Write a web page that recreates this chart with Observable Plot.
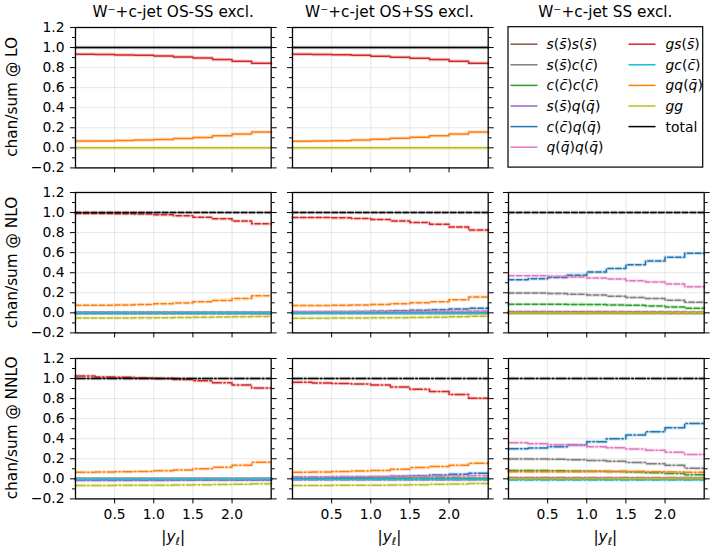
<!DOCTYPE html>
<html><head><meta charset="utf-8">
<script src="https://cdn.jsdelivr.net/npm/d3@7"></script>
<script src="https://cdn.jsdelivr.net/npm/@observablehq/plot@0.6"></script>
<style>
body{margin:0;background:#fff;}
#chart{position:relative;width:714px;height:554px;font-family:"DejaVu Sans",sans-serif;color:#000;background:#fff;overflow:hidden;}
#chart .panel{position:absolute;}
#overlay{position:absolute;left:0;top:0;pointer-events:none;}
</style></head>
<body><div id="chart"></div>
<script>
// ---------- data ----------
const binEdges = [0, 0.25, 0.5, 0.75, 1.0, 1.25, 1.5, 1.75, 2.0, 2.25, 2.5];
const channelLabels = ["s(s\u0304)s(s\u0304)", "s(s\u0304)c(c\u0304)", "c(c\u0304)c(c\u0304)", "s(s\u0304)q(q\u0304)", "c(c\u0304)q(q\u0304)", "q(q\u0304)q(q\u0304)",
                       "gs(s\u0304)", "gc(c\u0304)", "gq(q\u0304)", "gg", "total"];
const channelColors = ["#8c564b", "#7f7f7f", "#2ca02c", "#9467bd", "#1f77b4", "#e377c2",
                       "#d62728", "#17becf", "#ff7f0e", "#bcbd22", "#000000"];
const columnTitles = ["W\u207B+c-jet OS-SS excl.", "W\u207B+c-jet OS+SS excl.", "W\u207B+c-jet SS excl."];
const rowLabels = ["chan/sum @ LO", "chan/sum @ NLO", "chan/sum @ NNLO"];
const yMajorTicks = [-0.2, 0.0, 0.2, 0.4, 0.6, 0.8, 1.0, 1.2];
const yMinorTicks = [-0.1, 0.1, 0.3, 0.5, 0.7, 0.9, 1.1];
const xMajorTicks = [0.5, 1.0, 1.5, 2.0];

// channel order: ss, sc, cc, sq, cq, qq, gs, gc, gq, gg, total
const LO_OSmSS = [null, null, null, null, null, null,
  [0.933, 0.932, 0.927, 0.923, 0.917, 0.907, 0.897, 0.880, 0.863, 0.843],
  null,
  [0.067, 0.068, 0.073, 0.077, 0.083, 0.093, 0.103, 0.120, 0.137, 0.157],
  [0, 0, 0, 0, 0, 0, 0, 0, 0, 0],
  [1, 1, 1, 1, 1, 1, 1, 1, 1, 1]];
const LO_OSpSS = [null, null, null, null, null, null,
  [0.934, 0.932, 0.929, 0.923, 0.914, 0.904, 0.894, 0.880, 0.863, 0.843],
  null,
  [0.066, 0.068, 0.071, 0.077, 0.086, 0.096, 0.106, 0.120, 0.137, 0.157],
  [0, 0, 0, 0, 0, 0, 0, 0, 0, 0],
  [1, 1, 1, 1, 1, 1, 1, 1, 1, 1]];

const NLO_OSmSS = [
  [0.000, 0.000, 0.000, 0.000, 0.000, 0.000, 0.000, 0.000, 0.000, 0.000],
  [0.001, 0.001, 0.001, 0.001, 0.001, 0.001, 0.001, 0.001, 0.001, 0.001],
  [0.000, 0.000, 0.000, 0.000, 0.000, 0.000, 0.000, 0.000, 0.000, 0.000],
  [-0.004, -0.004, -0.004, -0.004, -0.004, -0.004, -0.004, -0.004, -0.004, -0.004],
  [0.002, 0.002, 0.002, 0.002, 0.002, 0.002, 0.002, 0.002, 0.002, 0.002],
  [0.000, 0.000, 0.000, 0.000, 0.000, 0.000, 0.000, 0.000, 0.000, 0.000],
  [0.990, 0.990, 0.988, 0.985, 0.978, 0.968, 0.953, 0.938, 0.915, 0.888],
  [-0.002, -0.002, -0.002, -0.002, -0.002, -0.002, -0.002, -0.002, -0.002, -0.002],
  [0.075, 0.076, 0.079, 0.083, 0.090, 0.099, 0.110, 0.124, 0.142, 0.170],
  [-0.052, -0.052, -0.051, -0.050, -0.049, -0.047, -0.045, -0.042, -0.039, -0.036],
  [1, 1, 1, 1, 1, 1, 1, 1, 1, 1]];
const NLO_OSpSS = [
  [0.001, 0.001, 0.001, 0.001, 0.001, 0.001, 0.001, 0.001, 0.001, 0.001],
  [0.005, 0.005, 0.005, 0.005, 0.005, 0.005, 0.005, 0.004, 0.004, 0.004],
  [0.003, 0.003, 0.003, 0.003, 0.003, 0.003, 0.003, 0.003, 0.003, 0.003],
  [-0.004, -0.004, -0.004, -0.004, -0.004, -0.004, -0.004, -0.004, -0.004, -0.004],
  [0.004, 0.006, 0.009, 0.012, 0.016, 0.021, 0.026, 0.032, 0.039, 0.046],
  [0.011, 0.011, 0.012, 0.012, 0.013, 0.014, 0.015, 0.016, 0.017, 0.019],
  [0.951, 0.950, 0.947, 0.940, 0.931, 0.917, 0.901, 0.884, 0.855, 0.825],
  [-0.005, -0.005, -0.005, -0.005, -0.005, -0.005, -0.005, -0.005, -0.005, -0.005],
  [0.072, 0.073, 0.075, 0.078, 0.084, 0.090, 0.100, 0.110, 0.130, 0.158],
  [-0.053, -0.053, -0.052, -0.051, -0.050, -0.048, -0.046, -0.043, -0.039, -0.034],
  [1, 1, 1, 1, 1, 1, 1, 1, 1, 1]];
const NLO_SS = [
  [0.004, 0.004, 0.004, 0.004, 0.003, 0.003, 0.003, 0.003, 0.002, 0.002],
  [0.198, 0.198, 0.192, 0.186, 0.177, 0.166, 0.154, 0.142, 0.126, 0.106],
  [0.086, 0.086, 0.085, 0.084, 0.082, 0.079, 0.075, 0.068, 0.058, 0.045],
  [0.012, 0.012, 0.011, 0.011, 0.010, 0.009, 0.008, 0.007, 0.005, 0.004],
  [0.330, 0.340, 0.353, 0.376, 0.406, 0.442, 0.480, 0.518, 0.554, 0.594],
  [0.370, 0.370, 0.364, 0.358, 0.347, 0.338, 0.320, 0.307, 0.287, 0.260],
  [0.001, 0.001, 0.001, 0.001, 0.001, 0.001, 0.001, 0.001, 0.001, 0.001],
  [0.000, 0.000, 0.000, 0.000, 0.000, 0.000, 0.000, 0.000, 0.000, 0.000],
  [0.002, 0.002, 0.002, 0.002, 0.002, 0.002, 0.002, 0.002, 0.002, 0.002],
  [0.001, 0.001, 0.001, 0.001, 0.001, 0.001, 0.001, 0.001, 0.001, 0.001],
  [1, 1, 1, 1, 1, 1, 1, 1, 1, 1]];

const NNLO_OSmSS = [
  [0.000, 0.000, 0.000, 0.000, 0.000, 0.000, 0.000, 0.000, 0.000, 0.000],
  [-0.002, -0.002, -0.002, -0.002, -0.002, -0.002, -0.002, -0.002, -0.002, -0.002],
  [0.000, 0.000, 0.000, 0.000, 0.000, 0.000, 0.000, 0.000, 0.000, 0.000],
  [-0.016, -0.016, -0.016, -0.016, -0.016, -0.015, -0.015, -0.015, -0.014, -0.014],
  [-0.004, -0.004, -0.004, -0.004, -0.004, -0.004, -0.004, -0.004, -0.004, -0.004],
  [0.000, 0.000, 0.000, 0.000, 0.000, 0.000, 0.000, 0.000, 0.000, 0.000],
  [1.026, 1.016, 1.012, 1.006, 1.000, 0.990, 0.978, 0.958, 0.935, 0.905],
  [-0.003, -0.003, -0.003, -0.003, -0.003, -0.003, -0.003, -0.003, -0.003, -0.003],
  [0.066, 0.067, 0.070, 0.073, 0.080, 0.088, 0.100, 0.115, 0.135, 0.165],
  [-0.066, -0.066, -0.065, -0.064, -0.063, -0.062, -0.060, -0.057, -0.054, -0.050],
  [1, 1, 1, 1, 1, 1, 1, 1, 1, 1]];
const NNLO_OSpSS = [
  [0.001, 0.001, 0.001, 0.001, 0.001, 0.001, 0.001, 0.001, 0.001, 0.001],
  [0.006, 0.006, 0.006, 0.006, 0.006, 0.006, 0.005, 0.005, 0.005, 0.004],
  [0.004, 0.004, 0.004, 0.004, 0.004, 0.004, 0.004, 0.004, 0.004, 0.004],
  [-0.009, -0.009, -0.009, -0.009, -0.009, -0.009, -0.009, -0.009, -0.008, -0.008],
  [0.007, 0.009, 0.012, 0.015, 0.020, 0.025, 0.031, 0.038, 0.046, 0.056],
  [0.022, 0.022, 0.023, 0.023, 0.024, 0.025, 0.026, 0.027, 0.028, 0.030],
  [0.962, 0.955, 0.951, 0.946, 0.935, 0.915, 0.893, 0.870, 0.840, 0.803],
  [-0.004, -0.004, -0.004, -0.004, -0.004, -0.004, -0.004, -0.004, -0.004, -0.004],
  [0.066, 0.067, 0.072, 0.078, 0.082, 0.095, 0.112, 0.122, 0.135, 0.155],
  [-0.066, -0.066, -0.065, -0.064, -0.063, -0.061, -0.058, -0.055, -0.051, -0.046],
  [1, 1, 1, 1, 1, 1, 1, 1, 1, 1]];
const NNLO_SS = [
  [0.004, 0.004, 0.004, 0.004, 0.004, 0.003, 0.003, 0.003, 0.003, 0.002],
  [0.199, 0.198, 0.195, 0.190, 0.183, 0.175, 0.163, 0.150, 0.135, 0.106],
  [0.083, 0.082, 0.080, 0.078, 0.075, 0.072, 0.067, 0.060, 0.052, 0.040],
  [0.010, 0.010, 0.010, 0.009, 0.009, 0.008, 0.008, 0.007, 0.007, 0.006],
  [0.300, 0.308, 0.321, 0.338, 0.371, 0.400, 0.437, 0.470, 0.510, 0.553],
  [0.361, 0.351, 0.341, 0.334, 0.321, 0.311, 0.298, 0.285, 0.265, 0.242],
  [0.002, 0.002, 0.002, 0.002, 0.002, 0.002, 0.002, 0.002, 0.002, 0.002],
  [-0.012, -0.012, -0.012, -0.012, -0.012, -0.012, -0.012, -0.012, -0.012, -0.012],
  [0.070, 0.070, 0.071, 0.071, 0.072, 0.072, 0.072, 0.070, 0.068, 0.065],
  [0.003, 0.003, 0.003, 0.003, 0.003, 0.003, 0.003, 0.003, 0.003, 0.003],
  [1, 1, 1, 1, 1, 1, 1, 1, 1, 1]];

const panelData = [
  [LO_OSmSS, LO_OSpSS, null],
  [NLO_OSmSS, NLO_OSpSS, NLO_SS],
  [NNLO_OSmSS, NNLO_OSpSS, NNLO_SS]];

// ---------- layout ----------
const colLeft = [75.3, 291.6, 507.5];
const rowTop = [26.7, 192.3, 357.7];
const panelW = 195.7, panelH = 140.4;
const mL = 50, mR = 12, mT = 6, mB = 32;
const dashes = [undefined, "5.5,2.4", "9.6,2.4,1.5,2.4"];
const fmt = d => d.toFixed(1).replace("-", "\u2212");
const blank = () => "";

const chart = document.getElementById("chart");

function drawPanel(vals, row, col) {
  const dash = dashes[row];
  const marks = [
    Plot.gridX({ticks: xMajorTicks, stroke: "#b0b0b0", strokeOpacity: 0.3, strokeWidth: 1}),
    Plot.gridY({ticks: yMajorTicks, stroke: "#b0b0b0", strokeOpacity: 0.3, strokeWidth: 1})
  ];
  vals.forEach((arr, i) => {
    if (!arr) return;
    const pts = binEdges.map((x, j) => ({x, y: arr[Math.min(j, arr.length - 1)]}));
    marks.push(Plot.line(pts, {x: "x", y: "y", curve: "step-after", stroke: channelColors[i],
      strokeWidth: 3.6, strokeOpacity: 0.22, strokeDasharray: dash}));
    marks.push(Plot.line(pts, {x: "x", y: "y", curve: "step-after", stroke: channelColors[i],
      strokeWidth: 1.5, strokeDasharray: dash}));
  });
  marks.push(
    Plot.axisY({ticks: yMajorTicks, anchor: "left", tickSize: 5, tickPadding: 6,
      tickFormat: col === 0 ? fmt : blank, label: null}),
    Plot.axisY({ticks: yMinorTicks, anchor: "left", tickSize: 3, tickFormat: blank, label: null}),
    Plot.axisY({ticks: yMajorTicks, anchor: "right", tickSize: 5, tickFormat: blank, label: null}),
    Plot.axisY({ticks: yMinorTicks, anchor: "right", tickSize: 3, tickFormat: blank, label: null}),
    Plot.axisX({ticks: xMajorTicks, anchor: "bottom", tickSize: 5, tickPadding: 5,
      tickFormat: row === 2 ? fmt : blank, label: null}),
    Plot.frame({stroke: "#000", strokeWidth: 1.3})
  );
  const svg = Plot.plot({
    width: panelW + mL + mR, height: panelH + mT + mB,
    marginLeft: mL, marginRight: mR, marginTop: mT, marginBottom: mB,
    x: {domain: [0, 2.5]},
    y: {domain: [-0.2, 1.2]},
    style: {fontFamily: "DejaVu Sans", fontSize: "13.9px", color: "#000", background: "transparent", overflow: "visible"},
    marks
  });
  svg.classList.add("panel");
  svg.style.left = (colLeft[col] - mL) + "px";
  svg.style.top = (rowTop[row] - mT) + "px";
  chart.appendChild(svg);
}

panelData.forEach((rowArr, r) => rowArr.forEach((vals, c) => { if (vals) drawPanel(vals, r, c); }));

// ---------- overlay text & legend ----------
const ov = d3.select(chart).append("svg").attr("id", "overlay")
  .attr("width", 714).attr("height", 554)
  .style("font-family", "DejaVu Sans").style("fill", "#000");

columnTitles.forEach((t, c) => {
  ov.append("text").attr("x", colLeft[c] + panelW / 2).attr("y", 17)
    .attr("text-anchor", "middle").attr("font-size", 15.3).text(t);
});
rowLabels.forEach((t, r) => {
  ov.append("text").attr("transform", `translate(17,${rowTop[r] + panelH / 2}) rotate(-90)`)
    .attr("text-anchor", "middle").attr("font-size", 15.3).text(t);
});
[0, 1, 2].forEach(c => {
  const t = ov.append("text").attr("x", colLeft[c] + panelW / 2).attr("y", 542)
    .attr("text-anchor", "middle").attr("font-size", 15.3);
  t.append("tspan").text("|");
  t.append("tspan").attr("font-style", "italic").text("y");
  t.append("tspan").attr("font-style", "italic").attr("font-size", 10.7).attr("dy", 3).text("\u2113");
  t.append("tspan").attr("dy", -3).text("|");
});

// legend (occupies the empty SS @ LO panel)
const lg = ov.append("g").attr("transform", `translate(${colLeft[2]},${rowTop[0]})`);
lg.append("rect").attr("x", 0.5).attr("y", 0).attr("width", panelW - 1).attr("height", panelH)
  .attr("fill", "#fff").attr("stroke", "#000").attr("stroke-width", 1.2);
function mathText(sel, s) {
  if (s === "total") { sel.append("tspan").text(s); return; }
  const parts = s.match(/[()]|[^()]+/g);
  parts.forEach(p => {
    const ts = sel.append("tspan").text(p);
    if (p !== "(" && p !== ")") ts.attr("font-style", "italic");
  });
}
channelLabels.forEach((lab, i) => {
  const colIdx = i < 6 ? 0 : 1;
  const rowIdx = i < 6 ? i : i - 6;
  const hx = colIdx === 0 ? 3 : 121;
  const tx = colIdx === 0 ? 39 : 158;
  const y = 17.5 + rowIdx * 20.6;
  lg.append("line").attr("x1", hx).attr("x2", hx + 27).attr("y1", y).attr("y2", y)
    .attr("stroke", channelColors[i]).attr("stroke-width", 1.5);
  const t = lg.append("text").attr("x", tx).attr("y", y + 5).attr("font-size", 13.9);
  mathText(t, lab);
});
</script>
</body></html>
